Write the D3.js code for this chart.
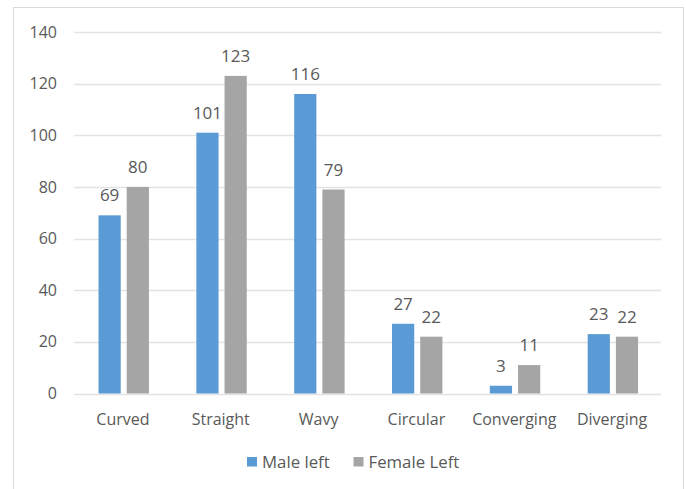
<!DOCTYPE html>
<html>
<head>
<meta charset="utf-8">
<script src="https://cdn.jsdelivr.net/npm/d3@7"></script>
<style>
  html, body { margin: 0; padding: 0; background: #fff; }
  svg { display: block; }
  text { font-family: "Open Sans", "Noto Sans", sans-serif; fill: #595959; }
</style>
</head>
<body>
<script>
// Left-hand counts per line shape
const categories = ["Curved", "Straight", "Wavy", "Circular", "Converging", "Diverging"];
const seriesNames = ["Male left", "Female Left"];
const maleLeft = [69, 101, 116, 27, 3, 23];
const femaleLeft = [80, 123, 79, 22, 11, 22];
const yTicks = [0, 20, 40, 60, 80, 100, 120, 140];
const colors = ["#5B9BD5", "#A5A5A5"];

const W = 686, H = 489;
const plot = { left: 74, right: 661, top: 32, bottom: 393.5 };

const svg = d3.select("body").append("svg").attr("width", W).attr("height", H);

// chart frame
svg.append("rect")
  .attr("x", 13.5).attr("y", 7.5)
  .attr("width", 670).attr("height", 490)
  .attr("fill", "#fff").attr("stroke", "#d9d9d9").attr("stroke-width", 1);

const x = d3.scaleBand().domain(categories).range([plot.left, plot.right]);
const y = d3.scaleLinear().domain([0, 140]).range([plot.bottom, plot.top]);
// two bars per group, ~22px wide with a 6px gap
const x1 = d3.scaleBand().domain(seriesNames).range([-24.4, 26.0]).paddingInner(0.213);

// horizontal gridlines
svg.append("g").selectAll("line").data(yTicks).join("line")
  .attr("x1", plot.left).attr("x2", plot.right)
  .attr("y1", d => Math.round(y(d)) + 0.5).attr("y2", d => Math.round(y(d)) + 0.5)
  .attr("stroke", "#e3e3e3").attr("stroke-width", 1.3);

// y axis labels
const yAxis = svg.append("g").attr("transform", `translate(${plot.left - 17},0)`)
  .call(d3.axisLeft(y).tickValues(yTicks).tickSize(0).tickPadding(0));
yAxis.select(".domain").remove();
yAxis.selectAll("text").attr("font-size", 16).attr("fill", "#595959")
  .style("font-family", '"Open Sans", sans-serif');

// x axis labels
const xAxis = svg.append("g").attr("transform", `translate(0,${plot.bottom + 15})`)
  .call(d3.axisBottom(x).tickSize(0).tickPadding(0));
xAxis.select(".domain").remove();
xAxis.selectAll("text").attr("font-size", 16).attr("fill", "#595959")
  .attr("dy", "1.05em")
  .style("font-family", '"Open Sans", sans-serif');

const rows = categories.map((c, i) => ({ cat: c, vals: [maleLeft[i], femaleLeft[i]] }));

const groups = svg.append("g").selectAll("g").data(rows).join("g")
  .attr("transform", d => `translate(${x(d.cat) + x.bandwidth() / 2},0)`);

const cells = groups.selectAll("g").data(d => d.vals.map((v, j) => ({ name: seriesNames[j], v, j })))
  .join("g");

cells.append("rect")
  .attr("x", d => x1(d.name))
  .attr("width", x1.bandwidth())
  .attr("y", d => y(d.v))
  .attr("height", d => y(0) - y(d.v))
  .attr("fill", d => colors[d.j]);

cells.append("text")
  .attr("x", d => x1(d.name) + x1.bandwidth() / 2)
  .attr("y", d => y(d.v) - 14)
  .attr("text-anchor", "middle")
  .attr("font-size", 17)
  .attr("fill", "#404040")
  .text(d => d.v);

// legend
const legend = svg.append("g").attr("transform", "translate(247,457)");
const legendX = [0, 106.5];
seriesNames.forEach((name, i) => {
  const g = legend.append("g").attr("transform", `translate(${legendX[i]},0)`);
  g.append("rect").attr("width", 10).attr("height", 9.5).attr("fill", colors[i]);
  g.append("text").attr("x", 15).attr("y", 10.5).attr("font-size", 16.8).attr("fill", "#595959").text(name);
});
</script>
</body>
</html>
